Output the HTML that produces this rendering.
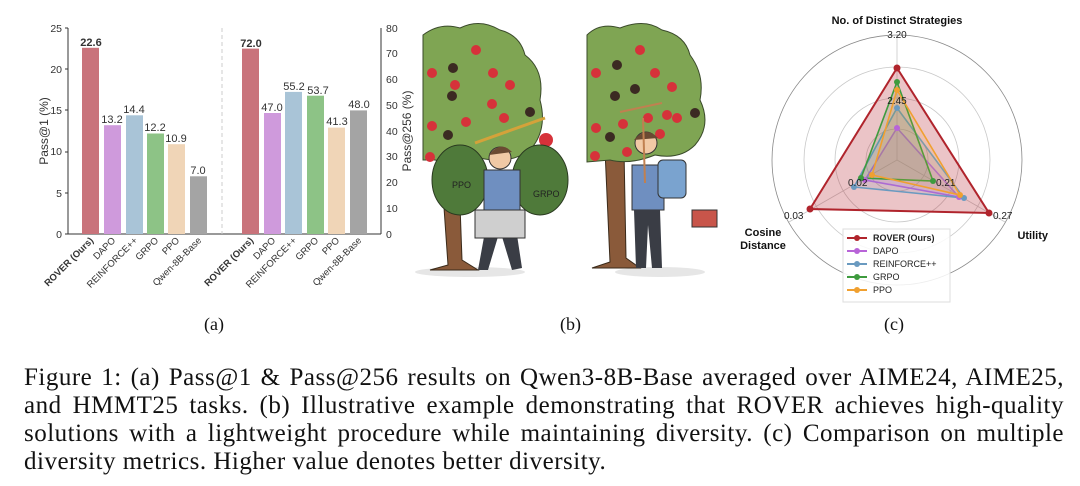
<!DOCTYPE html>
<html><head><meta charset="utf-8"><style>
body{margin:0;background:#fff;width:1080px;height:486px;overflow:hidden;position:relative;font-family:"Liberation Sans",sans-serif}
.cap{position:absolute;left:24px;width:1040px;font-family:"Liberation Serif",serif;font-size:25px;color:#111;text-align:justify;text-align-last:justify;white-space:nowrap;line-height:28px;letter-spacing:0.5px}
.lbl{position:absolute;font-family:"Liberation Serif",serif;font-size:18px;color:#111}
</style></head><body>
<svg width="1080" height="340" style="position:absolute;left:0;top:0" font-family="Liberation Sans, sans-serif">
<g fill="#333" font-size="10.5">
<line x1="68" y1="28" x2="68" y2="234" stroke="#333" stroke-width="1"/>
<line x1="381" y1="28" x2="381" y2="234" stroke="#333" stroke-width="1"/>
<line x1="68" y1="234" x2="381" y2="234" stroke="#333" stroke-width="1"/>
<line x1="222" y1="28" x2="222" y2="234" stroke="#ccc" stroke-dasharray="4,3"/>
<g text-anchor="end">
<text x="62" y="238">0</text><text x="62" y="197">5</text><text x="62" y="155">10</text><text x="62" y="114">15</text><text x="62" y="73">20</text><text x="62" y="32">25</text>
</g>
<g stroke="#333"><line x1="65" x2="68" y1="234" y2="234"/><line x1="65" x2="68" y1="193" y2="193"/><line x1="65" x2="68" y1="152" y2="152"/><line x1="65" x2="68" y1="110" y2="110"/><line x1="65" x2="68" y1="69" y2="69"/><line x1="65" x2="68" y1="28" y2="28"/></g>
<g>
<text x="386" y="238">0</text><text x="386" y="212">10</text><text x="386" y="186">20</text><text x="386" y="160">30</text><text x="386" y="135">40</text><text x="386" y="109">50</text><text x="386" y="83">60</text><text x="386" y="57">70</text><text x="386" y="32">80</text>
</g>
<text transform="translate(48,131) rotate(-90)" text-anchor="middle" font-size="12">Pass@1 (%)</text>
<text transform="translate(411,131) rotate(-90)" text-anchor="middle" font-size="12">Pass@256 (%)</text>
<rect x="82" y="47.8" width="17" height="186.2" fill="#c9737b"/>
<rect x="104" y="125.2" width="17" height="108.8" fill="#cf9adc"/>
<rect x="126" y="115.3" width="17" height="118.7" fill="#a9c4d7"/>
<rect x="147" y="133.5" width="17" height="100.5" fill="#8dc386"/>
<rect x="168" y="144.2" width="17" height="89.8" fill="#f0d5b7"/>
<rect x="190" y="176.3" width="17" height="57.7" fill="#a4a4a4"/>
<rect x="242" y="48.6" width="17" height="185.4" fill="#c9737b"/>
<rect x="264" y="113" width="17" height="121" fill="#cf9adc"/>
<rect x="285" y="91.9" width="17" height="142.1" fill="#a9c4d7"/>
<rect x="307" y="95.7" width="17" height="138.3" fill="#8dc386"/>
<rect x="328" y="127.6" width="17" height="106.4" fill="#f0d5b7"/>
<rect x="350" y="110.4" width="17" height="123.6" fill="#a4a4a4"/>
<g text-anchor="middle" font-size="11">
<text x="91" y="46" font-weight="bold">22.6</text><text x="112" y="123">13.2</text><text x="134" y="113">14.4</text><text x="155" y="131">12.2</text><text x="176" y="142">10.9</text><text x="198" y="174">7.0</text>
<text x="251" y="47" font-weight="bold">72.0</text><text x="272" y="111">47.0</text><text x="294" y="90">55.2</text><text x="318" y="94">53.7</text><text x="337" y="125">41.3</text><text x="359" y="108">48.0</text>
</g>
<g text-anchor="end" font-size="9.5">
<text transform="translate(94,241) rotate(-45)" font-weight="bold">ROVER (Ours)</text>
<text transform="translate(116,241) rotate(-45)">DAPO</text>
<text transform="translate(138,241) rotate(-45)">REINFORCE++</text>
<text transform="translate(159,241) rotate(-45)">GRPO</text>
<text transform="translate(180,241) rotate(-45)">PPO</text>
<text transform="translate(202,241) rotate(-45)">Qwen-8B-Base</text>
<text transform="translate(254,241) rotate(-45)" font-weight="bold">ROVER (Ours)</text>
<text transform="translate(276,241) rotate(-45)">DAPO</text>
<text transform="translate(297,241) rotate(-45)">REINFORCE++</text>
<text transform="translate(319,241) rotate(-45)">GRPO</text>
<text transform="translate(340,241) rotate(-45)">PPO</text>
<text transform="translate(362,241) rotate(-45)">Qwen-8B-Base</text>
</g>
</g>
<g>
<ellipse cx="470" cy="272" rx="55" ry="5" fill="#e6e6e6"/>
<ellipse cx="660" cy="272" rx="45" ry="5" fill="#e6e6e6"/>
<path d="M440 150 L448 265 L430 270 L478 270 L462 260 L458 150Z" fill="#8a5a3a" stroke="#3a2a1a"/>
<path d="M605 150 L610 262 L592 268 L640 268 L626 258 L624 150Z" fill="#8a5a3a" stroke="#3a2a1a"/>
<path d="M423 35 Q440 22 460 28 Q480 18 500 30 Q520 35 525 55 Q545 70 540 100 Q548 130 530 150 Q510 165 480 158 Q455 165 435 160 L423 160Z" fill="#7fa553" stroke="#3a4a2a"/>
<path d="M587 35 Q600 22 620 28 Q645 18 662 30 Q685 35 690 55 Q705 75 700 100 Q712 125 695 145 Q680 160 655 155 Q630 165 610 160 L587 162Z" fill="#7fa553" stroke="#3a4a2a"/>
<g fill="#d6323a">
<circle cx="432" cy="73" r="5"/><circle cx="455" cy="85" r="5"/><circle cx="493" cy="73" r="5"/><circle cx="510" cy="85" r="5"/><circle cx="476" cy="50" r="5"/><circle cx="492" cy="104" r="5"/><circle cx="432" cy="126" r="5"/><circle cx="466" cy="122" r="5"/><circle cx="504" cy="118" r="5"/><circle cx="546" cy="140" r="7"/><circle cx="430" cy="157" r="5"/>
<circle cx="596" cy="73" r="5"/><circle cx="640" cy="50" r="5"/><circle cx="655" cy="73" r="5"/><circle cx="672" cy="87" r="5"/><circle cx="596" cy="128" r="5"/><circle cx="623" cy="124" r="5"/><circle cx="648" cy="118" r="5"/><circle cx="660" cy="134" r="5"/><circle cx="667" cy="115" r="5"/><circle cx="677" cy="118" r="5"/><circle cx="627" cy="152" r="5"/><circle cx="595" cy="156" r="5"/>
</g>
<g fill="#3b2a22"><circle cx="453" cy="68" r="5"/><circle cx="452" cy="96" r="5"/><circle cx="530" cy="112" r="5"/><circle cx="448" cy="135" r="5"/><circle cx="617" cy="65" r="5"/><circle cx="615" cy="96" r="5"/><circle cx="635" cy="89" r="5"/><circle cx="695" cy="113" r="5"/><circle cx="610" cy="137" r="5"/></g>
<ellipse cx="460" cy="180" rx="28" ry="35" fill="#4f7a3a" stroke="#2a3a20"/>
<ellipse cx="540" cy="180" rx="28" ry="35" fill="#4f7a3a" stroke="#2a3a20"/>
<rect x="484" y="170" width="36" height="45" fill="#6f8fc0" stroke="#333"/>
<circle cx="500" cy="158" r="11" fill="#f1c9a5" stroke="#333"/>
<path d="M489 155 Q500 140 512 152Z" fill="#6b4a32"/>
<path d="M488 215 L478 270 L488 270 L500 230 L512 270 L522 268 L514 215Z" fill="#3a3d45"/>
<rect x="475" y="210" width="50" height="28" fill="#cfcfcf" stroke="#333"/>
<line x1="475" y1="143" x2="545" y2="118" stroke="#d4a23a" stroke-width="3"/>
<text x="452" y="188" font-size="9" fill="#222">PPO</text><text x="533" y="197" font-size="9" fill="#222">GRPO</text>
<rect x="632" y="165" width="32" height="45" fill="#6f8fc0" stroke="#333"/>
<rect x="658" y="160" width="28" height="38" rx="5" fill="#7aa3cf" stroke="#333"/>
<circle cx="646" cy="143" r="11" fill="#f1c9a5" stroke="#333"/>
<path d="M634 140 Q646 125 658 138Z" fill="#6b4a32"/>
<path d="M634 210 L636 268 L646 268 L648 225 L652 268 L662 268 L660 210Z" fill="#3a3d45"/>
<rect x="692" y="210" width="25" height="17" fill="#c8554a" stroke="#333"/>
<line x1="643" y1="118" x2="645" y2="183" stroke="#c08050" stroke-width="2"/>
<line x1="620" y1="112" x2="662" y2="103" stroke="#c08050" stroke-width="2"/>
</g>
<g fill="none" stroke="#c8c8c8" stroke-width="0.8">
<circle cx="897" cy="160" r="31"/><circle cx="897" cy="160" r="62"/><circle cx="897" cy="160" r="93"/>
<line x1="897" y1="160" x2="897" y2="35"/><line x1="897" y1="160" x2="1005" y2="222"/><line x1="897" y1="160" x2="789" y2="222"/>
</g>
<circle cx="897" cy="160" r="125" fill="none" stroke="#888" stroke-width="0.8"/>
<polygon points="897,68 989,213 810,209" fill="rgba(190,60,70,0.3)" stroke="#b0242c" stroke-width="2"/>
<polygon points="897,128 959,197 865,180" fill="rgba(190,100,220,0.15)" stroke="#b864d8" stroke-width="1.6"/>
<polygon points="897,108 964,198 854,187" fill="rgba(100,150,190,0.15)" stroke="#6a9ac0" stroke-width="1.6"/>
<polygon points="897,82 933,181 861,178" fill="rgba(60,150,60,0.15)" stroke="#3e9b3e" stroke-width="1.6"/>
<polygon points="897,90 960,195 872,175" fill="rgba(240,160,40,0.15)" stroke="#f0a030" stroke-width="1.6"/>
<g fill="#b0242c"><circle cx="897" cy="68" r="3.5"/><circle cx="989" cy="213" r="3.5"/><circle cx="810" cy="209" r="3.5"/></g>
<g fill="#b864d8"><circle cx="897" cy="128" r="3"/><circle cx="959" cy="197" r="3"/><circle cx="865" cy="180" r="3"/></g>
<g fill="#6a9ac0"><circle cx="897" cy="108" r="3"/><circle cx="964" cy="198" r="3"/><circle cx="854" cy="187" r="3"/></g>
<g fill="#3e9b3e"><circle cx="897" cy="82" r="3"/><circle cx="933" cy="181" r="3"/><circle cx="861" cy="178" r="3"/></g>
<g fill="#f0a030"><circle cx="897" cy="90" r="3"/><circle cx="960" cy="195" r="3"/><circle cx="872" cy="175" r="3"/></g>
<g font-size="10" fill="#222">
<text x="897" y="38" text-anchor="middle">3.20</text>
<text x="897" y="104" text-anchor="middle">2.45</text>
<text x="848" y="186">0.02</text><text x="936" y="186">0.21</text>
<text x="993" y="219">0.27</text><text x="784" y="219">0.03</text>
</g>
<g font-size="11" font-weight="bold" fill="#111">
<text x="897" y="24" text-anchor="middle">No. of Distinct Strategies</text>
<text x="1048" y="239" text-anchor="end">Utility</text>
<text x="763" y="236" text-anchor="middle">Cosine</text><text x="763" y="249" text-anchor="middle">Distance</text>
</g>
<rect x="843" y="229" width="107" height="73" fill="#fff" fill-opacity="0.85" stroke="#ddd"/>
<g font-size="9" fill="#222">
<line x1="847" y1="238" x2="867" y2="238" stroke="#b0242c" stroke-width="2"/><circle cx="857" cy="238" r="3" fill="#b0242c"/><text x="873" y="241" font-weight="bold">ROVER (Ours)</text>
<line x1="847" y1="251" x2="867" y2="251" stroke="#b864d8" stroke-width="2"/><circle cx="857" cy="251" r="3" fill="#b864d8"/><text x="873" y="254">DAPO</text>
<line x1="847" y1="264" x2="867" y2="264" stroke="#6a9ac0" stroke-width="2"/><circle cx="857" cy="264" r="3" fill="#6a9ac0"/><text x="873" y="267">REINFORCE++</text>
<line x1="847" y1="277" x2="867" y2="277" stroke="#3e9b3e" stroke-width="2"/><circle cx="857" cy="277" r="3" fill="#3e9b3e"/><text x="873" y="280">GRPO</text>
<line x1="847" y1="290" x2="867" y2="290" stroke="#f0a030" stroke-width="2"/><circle cx="857" cy="290" r="3" fill="#f0a030"/><text x="873" y="293">PPO</text>
</g>
</svg>
<div class="lbl" style="left:204px;top:314px">(a)</div>
<div class="lbl" style="left:560px;top:314px">(b)</div>
<div class="lbl" style="left:884px;top:314px">(c)</div>
<div class="cap" style="top:364px">Figure 1: (a) Pass@1 &amp; Pass@256 results on Qwen3-8B-Base averaged over AIME24, AIME25,</div>
<div class="cap" style="top:392px">and HMMT25 tasks. (b) Illustrative example demonstrating that ROVER achieves high-quality</div>
<div class="cap" style="top:420px">solutions with a lightweight procedure while maintaining diversity. (c) Comparison on multiple</div>
<div class="cap" style="top:448px;text-align-last:left">diversity metrics. Higher value denotes better diversity.</div>
</body></html>
